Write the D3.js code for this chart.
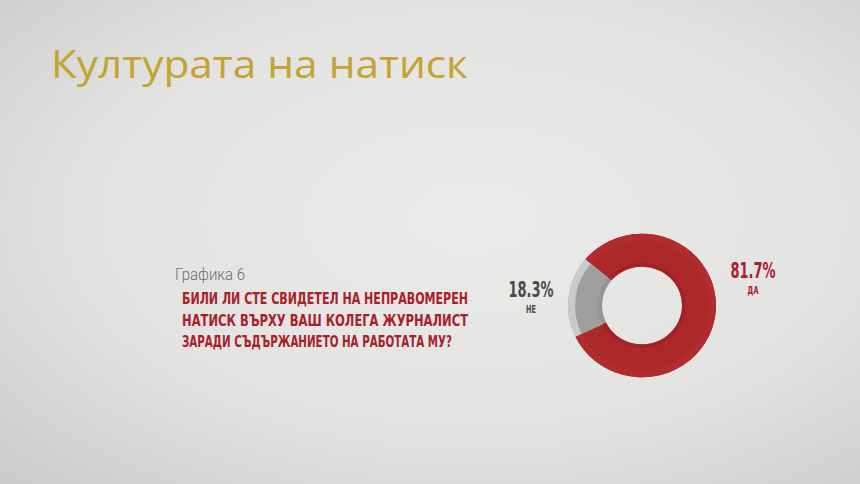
<!DOCTYPE html>
<html><head><meta charset="utf-8">
<script src="https://cdn.jsdelivr.net/npm/d3@7"></script>
<style>html,body{margin:0;padding:0;background:#dedddb;}svg{display:block;}</style>
</head><body>
<script>
const title = "Културата на натиск";
const chartLabel = "Графика 6";
const questionLines = ["БИЛИ ЛИ СТЕ СВИДЕТЕЛ НА НЕПРАВОМЕРЕН", "НАТИСК ВЪРХУ ВАШ КОЛЕГА ЖУРНАЛИСТ", "ЗАРАДИ СЪДЪРЖАНИЕТО НА РАБОТАТА МУ?"];
const categories = ["ДА", "НЕ"];
const values = [81.7, 18.3];
const valueLabels = ["81.7%", "18.3%"];

const W = 860, H = 484;
const svg = d3.select("body").append("svg").attr("width", W).attr("height", H);
const defs = svg.append("defs");
const bg = defs.append("radialGradient").attr("id","bg").attr("cx","0.55").attr("cy","0.45").attr("r","0.75");
bg.append("stop").attr("offset","0").attr("stop-color","#ebebe9");
bg.append("stop").attr("offset","0.6").attr("stop-color","#e2e2e0");
bg.append("stop").attr("offset","1").attr("stop-color","#cdcdcb");
svg.append("rect").attr("width",W).attr("height",H).attr("fill","url(#bg)");

svg.append("text").attr("x",51).attr("y",78).attr("fill","#c4a330")
  .attr("font-family","'Open Sans', sans-serif").attr("font-size",38).attr("font-weight",500)
  .attr("textLength",417).attr("lengthAdjust","spacingAndGlyphs").text(title);

svg.append("text").attr("x",175).attr("y",280).attr("fill","#6d6d6d")
  .attr("font-family","Roboto, sans-serif").attr("font-weight",300).attr("font-size",16)
  .attr("textLength",70).attr("lengthAdjust","spacingAndGlyphs").text(chartLabel);

const qWidths = [286, 286, 270];
svg.selectAll("text.q").data(questionLines).join("text").attr("class","q")
  .attr("x",182).attr("y",(d,i)=>304 + i*21.5).attr("fill","#a8212a")
  .attr("font-family","'DejaVu Sans Condensed', 'Liberation Sans Narrow', sans-serif")
  .attr("font-weight","bold").attr("font-size",15)
  .attr("textLength",(d,i)=>qWidths[i]).attr("lengthAdjust","spacingAndGlyphs").text(d=>d);

const cx = 642, cy = 305.5, rO = 74, rI = 40;
const g = svg.append("g").attr("transform",`translate(${cx},${cy}) scale(1,0.97)`);
const a0 = -50*Math.PI/180;
const pie = d3.pie().sort(null).startAngle(a0).endAngle(a0+2*Math.PI);
const arcs = pie(values);
const colors = ["#ad2929", "#9e9e9e"];
const outerCols = ["#b12c2c", "#cacaca"];
const innerCols = ["#931f1f", "#8c8c8c"];
const arcMain = d3.arc().innerRadius(rI).outerRadius(rO);
const arcOuterBand = d3.arc().innerRadius(rO-7).outerRadius(rO);
const arcInnerBand = d3.arc().innerRadius(rI).outerRadius(rI+4);
g.selectAll("path.m").data(arcs).join("path").attr("class","m").attr("d",arcMain).attr("fill",(d,i)=>colors[i]);
g.selectAll("path.o").data(arcs).join("path").attr("class","o").attr("d",arcOuterBand).attr("fill",(d,i)=>outerCols[i]);
g.selectAll("path.n").data(arcs).join("path").attr("class","n").attr("d",arcInnerBand).attr("fill",(d,i)=>innerCols[i]).attr("opacity",0.5);

// labels: one text element per slice, percent + category as tspans, condensed via scale
const lab = [{x:753, y:278, c:"#a8212a"}, {x:531, y:297, c:"#4a4a4a"}];
const lt = svg.selectAll("text.v").data(valueLabels).join("text").attr("class","v")
  .attr("transform",(d,i)=>`translate(${lab[i].x},${lab[i].y}) scale(0.62,1)`)
  .attr("text-anchor","middle")
  .attr("fill",(d,i)=>lab[i].c)
  .attr("font-family","'DejaVu Sans', sans-serif")
  .attr("font-weight","bold");
lt.append("tspan").attr("x",0).attr("y",0).attr("font-size",21).text(d=>d);
lt.append("tspan").attr("x",0).attr("y",16).attr("font-size",10.5).text((d,i)=>categories[i]);
</script>
</body></html>
